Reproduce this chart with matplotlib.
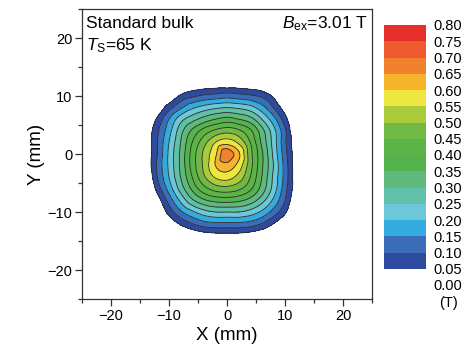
import numpy as np
import matplotlib
matplotlib.use("Agg")
import matplotlib.pyplot as plt
import matplotlib.tri as mtri

plt.rcParams['font.family'] = ['Liberation Sans', 'DejaVu Sans']
plt.rcParams['mathtext.fontset'] = 'custom'
plt.rcParams['mathtext.rm'] = 'Liberation Sans'
plt.rcParams['mathtext.it'] = 'Liberation Sans:italic'

# ---- data: trapped field (T) read on a 2 mm grid ----
x_mm = [-16, -14, -12, -10, -8, -6, -4, -2, 0, 2, 4, 6, 8, 10, 12, 14]
y_mm = [14, 12, 10, 8, 6, 4, 2, 0, -2, -4, -6, -8, -10, -12, -14, -16]
trapped_field = [
    [-0.34, -0.27, -0.22, -0.18, -0.15, -0.12, -0.10, -0.095, -0.09, -0.085, -0.115, -0.135, -0.19, -0.22, -0.29, -0.39],
    [-0.26, -0.19, -0.135, -0.09, -0.045, 0.00, 0.01, 0.015, 0.015, 0.015, 0.005, -0.01, -0.065, -0.145, -0.20, -0.305],
    [-0.25, -0.12, -0.05, -0.01, 0.06, 0.09, 0.11, 0.12, 0.13, 0.12, 0.11, 0.09, 0.04, -0.045, -0.115, -0.22],
    [-0.17, -0.07, 0.00, 0.08, 0.14, 0.19, 0.22, 0.24, 0.25, 0.24, 0.22, 0.17, 0.10, 0.02, -0.065, -0.16],
    [-0.115, -0.02, 0.06, 0.15, 0.23, 0.28, 0.32, 0.35, 0.37, 0.35, 0.32, 0.25, 0.17, 0.07, -0.04, -0.14],
    [-0.10, 0.00, 0.09, 0.18, 0.28, 0.36, 0.42, 0.46, 0.48, 0.46, 0.41, 0.32, 0.22, 0.11, -0.03, -0.12],
    [-0.10, 0.00, 0.10, 0.20, 0.30, 0.40, 0.48, 0.55, 0.58, 0.54, 0.45, 0.34, 0.23, 0.11, 0.00, -0.09],
    [-0.10, 0.00, 0.10, 0.21, 0.31, 0.42, 0.51, 0.59, 0.69, 0.61, 0.47, 0.36, 0.24, 0.12, 0.01, -0.09],
    [-0.10, 0.00, 0.11, 0.21, 0.31, 0.42, 0.51, 0.60, 0.63, 0.58, 0.47, 0.36, 0.25, 0.13, 0.01, -0.09],
    [-0.125, -0.02, 0.10, 0.20, 0.30, 0.40, 0.49, 0.555, 0.57, 0.53, 0.45, 0.35, 0.24, 0.13, 0.01, -0.09],
    [-0.14, -0.04, 0.07, 0.17, 0.27, 0.36, 0.43, 0.47, 0.48, 0.46, 0.41, 0.33, 0.23, 0.12, 0.01, -0.09],
    [-0.16, -0.07, 0.02, 0.12, 0.21, 0.29, 0.34, 0.365, 0.37, 0.36, 0.33, 0.27, 0.19, 0.10, -0.01, -0.10],
    [-0.20, -0.115, -0.025, 0.07, 0.14, 0.19, 0.23, 0.25, 0.25, 0.25, 0.23, 0.19, 0.13, 0.06, -0.04, -0.135],
    [-0.25, -0.16, -0.07, 0.00, 0.06, 0.10, 0.13, 0.14, 0.14, 0.14, 0.13, 0.10, 0.05, -0.01, -0.075, -0.17],
    [-0.29, -0.21, -0.14, -0.085, -0.03, 0.00, 0.02, 0.03, 0.03, 0.03, 0.02, 0.00, -0.035, -0.09, -0.145, -0.215],
    [-0.35, -0.285, -0.225, -0.17, -0.115, -0.095, -0.085, -0.07, -0.07, -0.07, -0.08, -0.095, -0.118, -0.18, -0.225, -0.29],
]

levels = [0.05, 0.10, 0.15, 0.20, 0.25, 0.30, 0.35, 0.40, 0.45, 0.50,
          0.55, 0.60, 0.65, 0.70, 0.75, 0.80]
level_colors = ['#2E4A9E', '#3B6CB7', '#33AAE0', '#6CC8D9', '#60C0A8',
                '#5FB97E', '#55B34E', '#5BB446', '#70B944', '#A9CB3C',
                '#EEE73F', '#F6B42B', '#F0822F', '#EE5A2D', '#E5302A']
cbar_ticks = [0.00, 0.05, 0.10, 0.15, 0.20, 0.25, 0.30, 0.35, 0.40,
              0.45, 0.50, 0.55, 0.60, 0.65, 0.70, 0.75, 0.80]
x_ticks = [-20, -10, 0, 10, 20]
y_ticks = [-20, -10, 0, 10, 20]

W, H = 470, 354
fig = plt.figure(figsize=(W / 100, H / 100), dpi=100)

# ---- main map ----
ax = fig.add_axes([82 / W, 1 - 299 / H, 290 / W, 290 / H])
X, Y = np.meshgrid(x_mm, y_mm)
Z = np.array(trapped_field)
triang = mtri.Triangulation(X.ravel(), Y.ravel())
interp = mtri.CubicTriInterpolator(triang, Z.ravel(), kind='geom')
refiner = mtri.UniformTriRefiner(triang)
tri_r, z_r = refiner.refine_field(Z.ravel(), triinterpolator=interp, subdiv=3)
ax.tricontourf(tri_r, z_r, levels=levels, colors=level_colors)
ax.tricontour(tri_r, z_r, levels=levels, colors='#2b2b2b', linewidths=0.6)

ax.set_xlim(-25, 25)
ax.set_ylim(-25, 25)
ax.set_xticks(x_ticks)
ax.set_yticks(y_ticks)
ax.set_xticks([-25, -15, -5, 5, 15, 25], minor=True)
ax.set_yticks([-25, -15, -5, 5, 15, 25], minor=True)
ax.tick_params(which='both', direction='out', top=False, right=False,
               labelsize=10.5, width=0.9, color='#333333', pad=2)
ax.tick_params(which='major', length=5)
ax.tick_params(which='minor', length=3)
for s in ax.spines.values():
    s.set_linewidth(0.9)
    s.set_color('#333333')
ax.set_xlabel('X (mm)', fontsize=13.5, labelpad=3)
ax.set_ylabel('Y (mm)', fontsize=13.5, labelpad=2)

ax.text(0.014, 0.934, 'Standard bulk', transform=ax.transAxes,
        fontsize=12.5, ha='left', va='baseline')
ax.text(0.014, 0.858, r'$T_\mathrm{S}$=65 K', transform=ax.transAxes,
        fontsize=12.5, ha='left', va='baseline')
ax.text(0.986, 0.934, r'$B_\mathrm{ex}$=3.01 T', transform=ax.transAxes,
        fontsize=12.5, ha='right', va='baseline')

# ---- colour scale ----
cax = fig.add_axes([384 / W, 1 - 285 / H, 42 / W, 260 / H])
for lo, c in zip(levels[:-1], level_colors):
    cax.bar(0.5, levels[1] - levels[0], bottom=lo, width=1.0, color=c,
            align='center', linewidth=0)
cax.set_xlim(0, 1)
cax.set_ylim(0, 0.80)
for s in cax.spines.values():
    s.set_visible(False)
cax.set_xticks([])
cax.yaxis.tick_right()
cax.set_yticks(cbar_ticks)
cax.set_yticklabels([f'{t:.2f}' for t in cbar_ticks])
cax.tick_params(axis='y', length=0, labelsize=10.5, pad=5)
fig.text(448 / W, 1 - 303 / H, '(T)', fontsize=10.5, ha='center', va='center')

fig.savefig('out.png', dpi=100)
